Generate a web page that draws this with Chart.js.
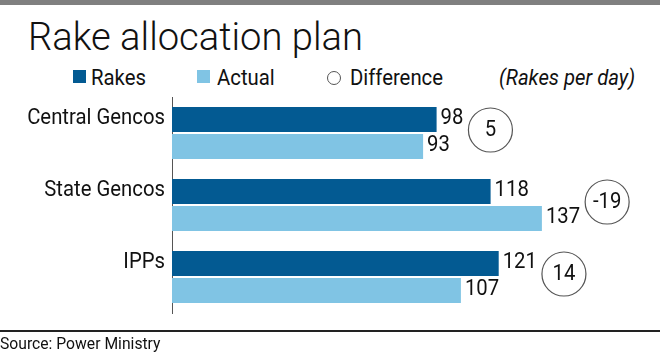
<!DOCTYPE html>
<html>
<head>
<meta charset="utf-8">
<script src="https://cdn.jsdelivr.net/npm/chart.js@4"></script>
<style>
  body { margin: 0; background: #fff; }
  #wrap { position: relative; width: 660px; height: 354px; overflow: hidden; font-family: Roboto, sans-serif; color: #111; }
  #topbar { position: absolute; left: 0; top: 0; width: 660px; height: 5px; background: #808080; }
  #title { position: absolute; left: 28px; top: 18px; font-weight: 300; font-size: 39px; line-height: 39px; white-space: nowrap; transform-origin: 0 0; }
  .txt { position: absolute; white-space: nowrap; transform-origin: 0 0; }
  .leg { top: 67px; font-size: 22px; line-height: 22px; }
  .sw { position: absolute; top: 70px; width: 13px; height: 13px; }
  #ring { position: absolute; left: 327px; top: 71px; width: 12px; height: 12px; border: 1px solid #555; border-radius: 50%; }
  #unit { font-style: italic; }
  #rule { position: absolute; left: 0; top: 330px; width: 660px; height: 2px; background: #222; }
  #source { left: 0; top: 335px; font-size: 17px; line-height: 17px; }
  canvas { position: absolute; left: 0; top: 0; }
</style>
</head>
<body>
<div id="wrap">
  <div id="topbar"></div>
  <div id="title">Rake allocation plan</div>
  <div class="sw" style="left:73px;background:#035a92"></div>
  <div class="txt leg" style="left:91px">Rakes</div>
  <div class="sw" style="left:197px;background:#80c4e4"></div>
  <div class="txt leg" style="left:217px">Actual</div>
  <div id="ring"></div>
  <div class="txt leg" id="diffLeg" style="left:350px">Difference</div>
  <div class="txt leg" id="unit" style="left:499px">(Rakes per day)</div>
  <canvas id="myChart" width="660" height="354"></canvas>
  <div id="rule"></div>
  <div class="txt" id="source">Source: Power Ministry</div>
</div>
<script>
var categories = ['Central Gencos', 'State Gencos', 'IPPs'];
var rakes = [98, 118, 121];
var actual = [93, 137, 107];
var difference = [5, -19, 14];

var fontFam = 'Roboto, sans-serif';

// the print graphic uses a condensed face: squeeze Roboto to match
var squeeze = 93 / document.getElementById('diffLeg').getBoundingClientRect().width;
document.querySelectorAll('.txt').forEach(function(el) {
  el.style.transform = 'scaleX(' + squeeze + ')';
});
var title = document.getElementById('title');
title.style.transform = 'scaleX(' + (335 / title.getBoundingClientRect().width) + ')';

function narrowText(ctx, text, x, y, align) {
  var w = ctx.measureText(text).width * squeeze;
  var x0 = align === 'right' ? x - w : (align === 'center' ? x - w / 2 : x);
  ctx.save();
  ctx.translate(x0, y);
  ctx.scale(squeeze, 1);
  ctx.textAlign = 'left';
  ctx.fillText(text, 0, 0);
  ctx.restore();
  return w;
}

var labelsPlugin = {
  id: 'labels',
  afterDraw: function(chart) {
    var ctx = chart.ctx;
    var yScale = chart.scales.y;
    var m0 = chart.getDatasetMeta(0).data;
    var m1 = chart.getDatasetMeta(1).data;
    ctx.save();
    ctx.font = '22px ' + fontFam;
    ctx.fillStyle = '#111';
    ctx.textBaseline = 'middle';
    // category names, lined up with the Rakes bar
    categories.forEach(function(c, j) {
      narrowText(ctx, c, yScale.right - 7, m0[j].y - 1, 'right');
    });
    // bar values
    chart.data.datasets.forEach(function(ds, i) {
      chart.getDatasetMeta(i).data.forEach(function(bar, j) {
        narrowText(ctx, String(ds.data[j]), bar.x + 4, bar.y - 1, 'left');
      });
    });
    // difference bubbles
    for (var j = 0; j < categories.length; j++) {
      var big = rakes[j] >= actual[j] ? m0[j] : m1[j];
      var val = rakes[j] >= actual[j] ? rakes[j] : actual[j];
      var end = big.x + 4 + ctx.measureText(String(val)).width * squeeze;
      var r = 22;
      var cx = end + 5 + r;
      var cy = (m0[j].y + m1[j].y) / 2 - 3;
      ctx.beginPath();
      ctx.arc(cx, cy, r, 0, Math.PI * 2);
      ctx.strokeStyle = '#555';
      ctx.lineWidth = 1.2;
      ctx.stroke();
      narrowText(ctx, String(difference[j]), cx, cy, 'center');
    }
    ctx.restore();
  }
};

const ctx = document.getElementById('myChart');
new Chart(ctx, {
  type: 'bar',
  data: {
    labels: categories,
    datasets: [{
      label: 'Rakes',
      data: rakes,
      backgroundColor: '#035a92',
      categoryPercentage: 0.75,
      barPercentage: 0.926
    }, {
      label: 'Actual',
      data: actual,
      backgroundColor: '#80c4e4',
      categoryPercentage: 0.75,
      barPercentage: 0.926
    }]
  },
  options: {
    indexAxis: 'y',
    responsive: false,
    animation: false,
    devicePixelRatio: 1,
    layout: {
      padding: { top: 97, bottom: 41, left: 0, right: 2 }
    },
    plugins: {
      legend: { display: false },
      title: { display: false },
      tooltip: { enabled: false }
    },
    scales: {
      x: { min: 0, max: 180, display: false },
      y: {
        grid: { display: false, drawTicks: false },
        border: { display: true, color: '#555', width: 1 },
        ticks: { display: false },
        afterFit: function(scale) { scale.width = 172; }
      }
    }
  },
  plugins: [labelsPlugin]
});
</script>
</body>
</html>
